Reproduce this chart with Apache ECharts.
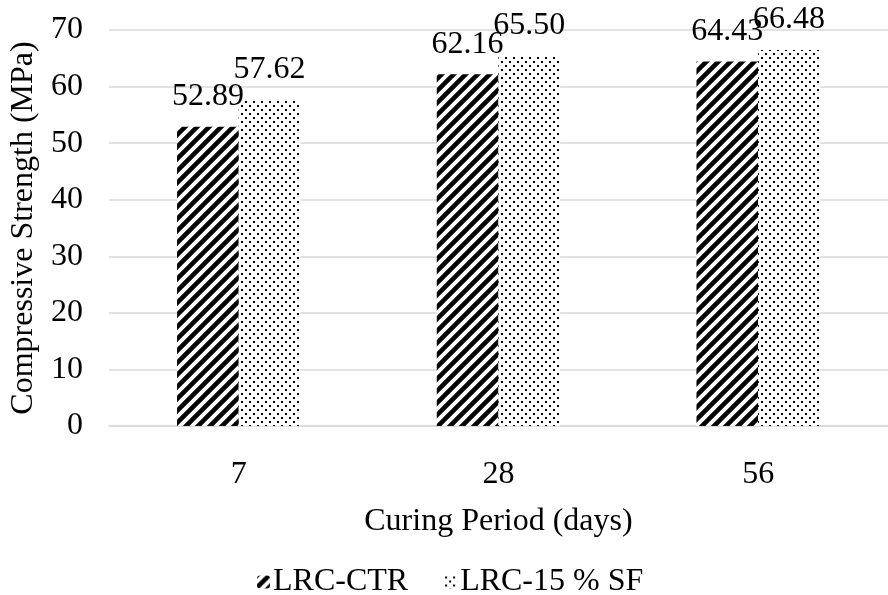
<!DOCTYPE html>
<html><head><meta charset="utf-8">
<script src="https://cdn.jsdelivr.net/npm/echarts@6/dist/echarts.min.js"></script>
<style>html,body{margin:0;padding:0;background:#fff}#c{width:888px;height:595px}</style>
</head><body><div id="c"></div>
<script>
const categories = ['7', '28', '56'];
const seriesNames = ['LRC-CTR', 'LRC-15 % SF'];
const ctrValues = [52.89, 62.16, 64.43];
const sfValues = [57.62, 65.50, 66.48];
const yTicks = [0, 10, 20, 30, 40, 50, 60, 70];

function hatchPattern() {
  const s = 12, c = document.createElement('canvas');
  c.width = s; c.height = s;
  const g = c.getContext('2d');
  g.fillStyle = '#fff'; g.fillRect(0, 0, s, s);
  g.strokeStyle = '#000'; g.lineWidth = 4.5; g.lineCap = 'square';
  g.beginPath();
  g.moveTo(-s, s); g.lineTo(s, -s);
  g.moveTo(0, s); g.lineTo(s, 0);
  g.moveTo(0, 2 * s); g.lineTo(2 * s, 0);
  g.stroke();
  return c;
}
function dotPattern() {
  const s = 8, c = document.createElement('canvas');
  c.width = s; c.height = s;
  const g = c.getContext('2d');
  g.fillStyle = '#fff'; g.fillRect(0, 0, s, s);
  g.fillStyle = '#000';
  g.fillRect(1, 1, 2, 2);
  g.fillRect(5, 5, 2, 2);
  return c;
}
const hatch = { image: hatchPattern(), repeat: 'repeat' };
const dots = { image: dotPattern(), repeat: 'repeat' };
const font = '"Liberation Serif", "Times New Roman", serif';
const fs = 32;

const chart = echarts.init(document.getElementById('c'), null, { renderer: 'canvas' });
const labelCfg = { show: true, position: 'top', distance: 14, color: '#000', fontFamily: font, fontSize: fs, formatter: p => p.value.toFixed(2) };
chart.setOption({
  animation: false,
  backgroundColor: '#fff',
  textStyle: { fontFamily: font },
  grid: { left: 108, top: 30, width: 795, height: 396, containLabel: false },
  legend: {
    top: 566, left: 257, padding: 0, itemGap: 36, itemWidth: 13, itemHeight: 13,
    textStyle: { fontFamily: font, fontSize: fs, color: '#000', padding: [0, 0, 0, -2] },
    data: seriesNames
  },
  xAxis: {
    type: 'category', data: categories,
    name: 'Curing Period (days)', nameLocation: 'middle', nameGap: 80,
    nameTextStyle: { fontFamily: font, fontSize: fs, color: '#000' },
    axisLine: { show: true, lineStyle: { color: '#d9d9d9', width: 1.5 } },
    axisTick: { show: false },
    axisLabel: { margin: 33, color: '#000', fontFamily: font, fontSize: fs }
  },
  yAxis: {
    type: 'value', min: yTicks[0], max: yTicks[yTicks.length - 1], interval: 10,
    name: 'Compressive Strength (MPa)', nameLocation: 'middle', nameGap: 62, nameRotate: 90,
    nameTextStyle: { fontFamily: font, fontSize: fs, color: '#000' },
    axisLine: { show: false }, axisTick: { show: false },
    axisLabel: { margin: 26, color: '#000', fontFamily: font, fontSize: fs },
    splitLine: { lineStyle: { color: '#d9d9d9', width: 1.5 } }
  },
  series: [
    { name: seriesNames[0], type: 'bar', data: ctrValues, barGap: '0%', barCategoryGap: '52.5%',
      itemStyle: { color: hatch }, label: labelCfg },
    { name: seriesNames[1], type: 'bar', data: sfValues,
      itemStyle: { color: dots }, label: labelCfg }
  ]
});
</script></body></html>
